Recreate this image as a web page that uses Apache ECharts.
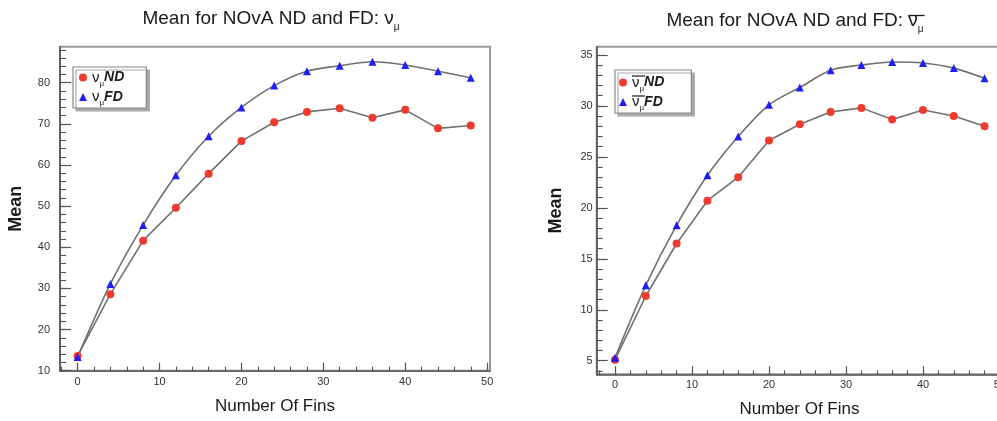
<!DOCTYPE html>
<html><head><meta charset="utf-8">
<script src="https://cdn.jsdelivr.net/npm/echarts@6/dist/echarts.min.js"></script>
<style>html,body{margin:0;padding:0;background:#fff}#c{width:997px;height:421px}</style>
</head><body><div id="c"></div>
<script>
const fins = [0, 4, 8, 12, 16, 20, 24, 28, 32, 36, 40, 44, 48];
const numuND = [13.6, 28.6, 41.6, 49.6, 57.9, 65.8, 70.4, 72.9, 73.8, 71.5, 73.4, 68.9, 69.6];
const numuFD = [13.3, 31.1, 45.4, 57.5, 67.0, 74.0, 79.3, 82.8, 84.1, 85.1, 84.3, 82.8, 81.2];
const anumuND = [5.1, 11.35, 16.5, 20.7, 23.0, 26.6, 28.2, 29.4, 29.8, 28.65, 29.6, 29.0, 28.0];
const anumuFD = [5.3, 12.4, 18.3, 23.2, 27.0, 30.1, 31.8, 33.5, 34.0, 34.3, 34.2, 33.7, 32.7];
const xMajorTicks = [0, 10, 20, 30, 40, 50];
const xMinorTicks = [-2, 0, 2, 4, 6, 8, 10, 12, 14, 16, 18, 20, 22, 24, 26, 28, 30, 32, 34, 36, 38, 40, 42, 44, 46, 48, 50];
const yLeftMajorTicks = [10, 20, 30, 40, 50, 60, 70, 80];
const yLeftMinorTicks = [10, 12, 14, 16, 18, 20, 22, 24, 26, 28, 30, 32, 34, 36, 38, 40, 42, 44, 46, 48, 50, 52, 54, 56, 58, 60, 62, 64, 66, 68, 70, 72, 74, 76, 78, 80, 82, 84, 86, 88];
const yRightMajorTicks = [5, 10, 15, 20, 25, 30, 35];
const yRightMinorTicks = [4, 5, 6, 7, 8, 9, 10, 11, 12, 13, 14, 15, 16, 17, 18, 19, 20, 21, 22, 23, 24, 25, 26, 27, 28, 29, 30, 31, 32, 33, 34, 35];
const titlePrefix = 'Mean for NOvA ND and FD: ';

const FONT = 'Liberation Sans, Arial, sans-serif';
const CSSFONT = '"Liberation Sans", Arial, sans-serif';
const AXIS_COLOR = '#555';
const LINE_COLOR = '#707070';
const RED = '#ee3a2f';
const BLUE = '#1f1ff0';
const TXT = '#1a1a1a';

const T_SIZE = 19, T_SUB = 10;
const L_NU = 15, L_SUB = 8, L_B = 14;

function xMajor(grid, min, max, labelMargin) {
  return {
    type: 'value', gridIndex: grid, min: min, max: max, position: 'bottom',
    name: 'Number Of Fins', nameLocation: 'middle', nameGap: 27,
    nameTextStyle: {fontFamily: FONT, fontSize: 17, color: TXT},
    axisLine: {show: true, onZero: false, lineStyle: {color: AXIS_COLOR, width: 1.6}},
    axisTick: {show: true, inside: true, length: 8, customValues: xMajorTicks, lineStyle: {color: AXIS_COLOR, width: 1.2}},
    axisLabel: {show: true, customValues: xMajorTicks, margin: labelMargin, fontFamily: FONT, fontSize: 11, color: '#333'},
    splitLine: {show: false}, minorTick: {show: false}
  };
}
function xMinor(grid, min, max) {
  return {
    type: 'value', gridIndex: grid, min: min, max: max, position: 'bottom',
    axisLine: {show: false, onZero: false},
    axisTick: {show: true, inside: true, length: 4, customValues: xMinorTicks, lineStyle: {color: AXIS_COLOR, width: 1.1}},
    axisLabel: {show: false}, splitLine: {show: false}
  };
}
function yMajor(grid, min, max, ticks, labelMargin, nameGap) {
  return {
    type: 'value', gridIndex: grid, min: min, max: max, position: 'left',
    name: 'Mean', nameLocation: 'middle', nameGap: nameGap, nameRotate: 90,
    nameTextStyle: {fontFamily: FONT, fontSize: 18, fontWeight: 'bold', color: TXT},
    axisLine: {show: true, onZero: false, lineStyle: {color: AXIS_COLOR, width: 1.6}},
    axisTick: {show: true, inside: true, length: 11, customValues: ticks, lineStyle: {color: AXIS_COLOR, width: 1.2}},
    axisLabel: {show: true, customValues: ticks, margin: labelMargin, fontFamily: FONT, fontSize: 11, color: '#333'},
    splitLine: {show: false}
  };
}
function yMinor(grid, min, max, ticks) {
  return {
    type: 'value', gridIndex: grid, min: min, max: max, position: 'left',
    axisLine: {show: false, onZero: false},
    axisTick: {show: true, inside: true, length: 6, customValues: ticks, lineStyle: {color: AXIS_COLOR, width: 1.1}},
    axisLabel: {show: false}, splitLine: {show: false}
  };
}
function lineSeries(name, xs, ys, xi, yi, sym, color, smooth) {
  return {
    name: name, type: 'line', xAxisIndex: xi, yAxisIndex: yi,
    data: xs.map((x, i) => [x, ys[i]]),
    symbol: sym, symbolSize: 8, showSymbol: true,
    smooth: smooth,
    lineStyle: {color: LINE_COLOR, width: 1.6},
    itemStyle: {color: color},
    emphasis: {disabled: true}, animation: false, z: 3
  };
}

const richLegend = {
  nu: {fontFamily: FONT, fontSize: L_NU, color: TXT, lineHeight: 20},
  sub: {fontFamily: FONT, fontSize: L_SUB, color: TXT, lineHeight: 12, verticalAlign: 'bottom'},
  b: {fontFamily: FONT, fontSize: L_B, fontWeight: 'bold', fontStyle: 'italic', color: TXT, lineHeight: 20}
};
const legendLabels = {
  numuND: '{nu|ν}{sub|μ}{b|ND}',
  numuFD: '{nu|ν}{sub|μ}{b|FD}',
  anumuND: '{nu|ν}{sub|μ}{b|ND}',
  anumuFD: '{nu|ν}{sub|μ}{b|FD}'
};
function legend(names, left, top, pad) {
  return {
    show: true, orient: 'vertical', left: left, top: top,
    data: [{name: names[0], icon: 'circle'}, {name: names[1], icon: 'triangle'}],
    itemWidth: 8, itemHeight: 8, itemGap: 2,
    padding: pad,
    backgroundColor: '#fff', borderColor: '#888', borderWidth: 1.2,
    shadowColor: '#aaa', shadowBlur: 0, shadowOffsetX: 3, shadowOffsetY: 3,
    selectedMode: false,
    formatter: n => legendLabels[n],
    textStyle: {rich: richLegend}
  };
}
const richTitle = {
  nu: {fontFamily: FONT, fontSize: T_SIZE, color: TXT, lineHeight: 26},
  sub: {fontFamily: FONT, fontSize: T_SUB, color: TXT, lineHeight: 14, verticalAlign: 'bottom'}
};

// measure text to place overline bars (antineutrino symbol)
const mctx = document.createElement('canvas').getContext('2d');
function tw(s, size) { mctx.font = size + 'px ' + CSSFONT; return mctx.measureText(s).width; }

const titleTopL = 6, titleTopR = 8, titleCenterL = 271, titleCenterR = 795;
const wPre = tw(titlePrefix, T_SIZE), wNu = tw('ν', T_SIZE), wMu = tw('μ', T_SUB);
const tStart = titleCenterR - (wPre + wNu + wMu) / 2;
const legRLeft = 615, legRTop = 70, legRPad = [5, 27, 1, 4];
const lgTextX = legRLeft + legRPad[3] + 8 + 5;
const lgBarW = tw('ν', L_NU) + tw('μ', L_SUB);
const bar = (x1, x2, y, w) => ({type: 'line', silent: true, z: 100,
  shape: {x1: x1, y1: y, x2: x2, y2: y}, style: {stroke: TXT, lineWidth: w}});

const chart = echarts.init(document.getElementById('c'), null, {renderer: 'canvas'});
chart.setOption({
  animation: false,
  backgroundColor: '#fff',
  title: [
    {text: titlePrefix + '{nu|ν}{sub|μ}', left: titleCenterL, top: titleTopL, textAlign: 'center', padding: 0,
     textStyle: {fontFamily: FONT, fontSize: T_SIZE, fontWeight: 'normal', color: TXT, rich: richTitle}},
    {text: titlePrefix + '{nu|ν}{sub|μ}', left: titleCenterR, top: titleTopR, textAlign: 'center', padding: 0,
     textStyle: {fontFamily: FONT, fontSize: T_SIZE, fontWeight: 'normal', color: TXT, rich: richTitle}}
  ],
  grid: [
    {left: 60, right: 507, top: 46.7, bottom: 50.3, show: true, borderColor: '#999', borderWidth: 2, backgroundColor: '#fff', outerBoundsMode: 'none'},
    {left: 596.7, right: -5.3, top: 46.7, bottom: 46.7, show: true, borderColor: '#999', borderWidth: 2, backgroundColor: '#fff', outerBoundsMode: 'none'}
  ],
  xAxis: [
    xMajor(0, -2.15, 50.35, 6), xMinor(0, -2.15, 50.35),
    xMajor(1, -2.38, 50.3, 5), xMinor(1, -2.38, 50.3)
  ],
  yAxis: [
    yMajor(0, 10, 88.75, yLeftMajorTicks, 10, 35), yMinor(0, 10, 88.75, yLeftMinorTicks),
    yMajor(1, 3.67, 35.8, yRightMajorTicks, 4, 32), yMinor(1, 3.67, 35.8, yRightMinorTicks)
  ],
  legend: [
    legend(['numuND', 'numuFD'], 73, 67, [3, 22, 1, 6]),
    legend(['anumuND', 'anumuFD'], legRLeft, legRTop, legRPad)
  ],
  graphic: [
    bar(tStart + wPre, tStart + wPre + wNu + wMu + 1, titleTopR + 7.5, 1.3),
    bar(lgTextX, lgTextX + lgBarW + 1, 76, 1.2),
    bar(lgTextX, lgTextX + lgBarW + 1, 96, 1.2)
  ],
  series: [
    lineSeries('numuND', fins, numuND, 0, 0, 'circle', RED, false),
    lineSeries('numuFD', fins, numuFD, 0, 0, 'triangle', BLUE, 0.3),
    lineSeries('anumuND', fins, anumuND, 2, 2, 'circle', RED, false),
    lineSeries('anumuFD', fins, anumuFD, 2, 2, 'triangle', BLUE, 0.3)
  ]
});
</script></body></html>
